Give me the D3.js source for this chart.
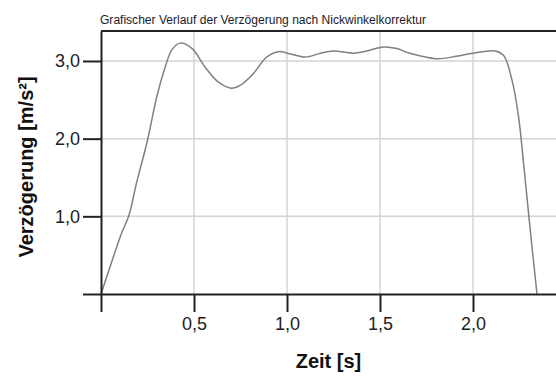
<!DOCTYPE html>
<html>
<head>
<meta charset="utf-8">
<script src="https://cdn.jsdelivr.net/npm/d3@7"></script>
<style>
  body { margin: 0; background: #fff; }
  svg { display: block; font-family: "Liberation Sans", Arial, sans-serif; }
</style>
</head>
<body>
<div id="chart"></div>
<script>
// Zeit [s]
const zeit = [0, 0.06, 0.11, 0.15, 0.19, 0.25, 0.3, 0.345, 0.38, 0.425, 0.49, 0.56, 0.63, 0.7, 0.75, 0.82,
  0.89, 0.955, 1.02, 1.1, 1.18, 1.25, 1.36, 1.43, 1.52, 1.59, 1.66, 1.8, 1.91, 2.0, 2.12, 2.165,
  2.21, 2.245, 2.272, 2.308, 2.344];
// Verzögerung [m/s²]
const verz = [0, 0.43, 0.78, 1.01, 1.42, 1.98, 2.54, 2.92, 3.14, 3.23, 3.16, 2.92, 2.73, 2.65, 2.69, 2.84,
  3.05, 3.12, 3.09, 3.05, 3.1, 3.13, 3.1, 3.13, 3.18, 3.16, 3.1, 3.03, 3.06, 3.1, 3.13, 3.07,
  2.75, 2.28, 1.68, 0.82, 0];
const xTicks = [0, 0.5, 1.0, 1.5, 2.0];
const yTicks = [0, 1.0, 2.0, 3.0];
const title = "Grafischer Verlauf der Verzögerung nach Nickwinkelkorrektur";

const width = 556;
const height = 377;
const margin = { top: 31, left: 101, bottom: 83, right: 0 };
const iwidth = width - margin.left - margin.right;
const iheight = height - margin.top - margin.bottom;

const svg = d3.select("#chart").append("svg")
  .attr("width", width)
  .attr("height", height);

const g = svg.append("g")
  .attr("transform", `translate(${margin.left},${margin.top})`);

const x = d3.scaleLinear().domain([0, iwidth / 186]).range([0, iwidth]);
const y = d3.scaleLinear().domain([0, iheight / 77.67]).range([iheight, 0]);

const fmt = (d) => (d === 0 ? "" : d3.format(".1f")(d).replace(".", ","));

// grid
g.append("g").selectAll("line").data(xTicks.filter((d) => d > 0)).join("line")
  .attr("x1", (d) => x(d)).attr("x2", (d) => x(d))
  .attr("y1", 0).attr("y2", iheight)
  .attr("stroke", "#d4d4d4").attr("stroke-width", 1.5);
g.append("g").selectAll("line").data(yTicks.filter((d) => d > 0)).join("line")
  .attr("x1", 0).attr("x2", iwidth)
  .attr("y1", (d) => y(d)).attr("y2", (d) => y(d))
  .attr("stroke", "#d4d4d4").attr("stroke-width", 1.5);

// curve
const data = zeit.map((t, i) => ({ t, v: verz[i] }));
const line = d3.line().x((d) => x(d.t)).y((d) => y(d.v)).curve(d3.curveCatmullRom.alpha(0.5));
g.append("path").datum(data)
  .attr("d", line)
  .attr("fill", "none")
  .attr("stroke", "#808080")
  .attr("stroke-width", 1.5);

// top border
g.append("line").attr("x1", 0).attr("x2", iwidth).attr("y1", 0).attr("y2", 0)
  .attr("stroke", "#222").attr("stroke-width", 2);

// axes
const xAxis = g.append("g")
  .attr("transform", `translate(0,${iheight})`)
  .call(d3.axisBottom(x).tickValues(xTicks).tickFormat(fmt).tickSize(18).tickSizeOuter(0).tickPadding(5));
const yAxis = g.append("g")
  .call(d3.axisLeft(y).tickValues(yTicks).tickFormat(fmt).tickSize(18).tickSizeOuter(0).tickPadding(3));

[xAxis, yAxis].forEach((a) => {
  a.selectAll("path, line").attr("stroke", "#222").attr("stroke-width", 2);
  a.selectAll("text").attr("font-size", 18).attr("fill", "#1c1c28")
    .attr("font-family", "'Liberation Sans', Arial, sans-serif");
});

// titles
svg.append("text")
  .attr("x", 100).attr("y", 24)
  .attr("font-size", 12)
  .attr("textLength", 326).attr("lengthAdjust", "spacingAndGlyphs")
  .attr("fill", "#1a1a2a")
  .text(title);

svg.append("text")
  .attr("x", margin.left + iwidth / 2).attr("y", 368)
  .attr("text-anchor", "middle")
  .attr("font-size", 20).attr("font-weight", "bold").attr("fill", "#111")
  .text("Zeit [s]");

svg.append("text")
  .attr("transform", "translate(33,167) rotate(-90)")
  .attr("text-anchor", "middle")
  .attr("font-size", 20).attr("font-weight", "bold").attr("fill", "#111")
  .text("Verzögerung [m/s²]");
</script>
</body>
</html>
